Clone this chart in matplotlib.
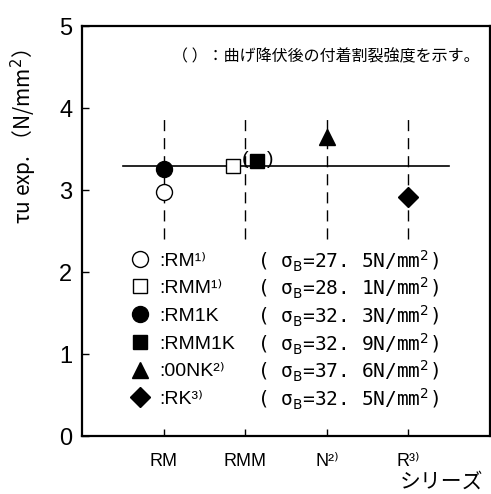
import matplotlib
matplotlib.use("Agg")
import matplotlib.pyplot as plt
from matplotlib import font_manager

have = sorted(set(f.name for f in font_manager.fontManager.ttflist))
narrow = 'Liberation Sans Narrow' if 'Liberation Sans Narrow' in have else 'Liberation Sans'
plt.rcParams['font.family'] = [narrow, 'Noto Sans CJK JP', 'DejaVu Sans']
cjk = ['Noto Sans CJK JP', 'DejaVu Sans']

# data
series_ticks = ['RM', 'RMM', 'N²⁾', 'R³⁾']
names = ['RM¹⁾', 'RMM¹⁾', 'RM1K', 'RMM1K', '00NK²⁾', 'RK³⁾']
series_x = [1, 1.85, 1, 2.15, 3, 4]
tau_exp = [2.97, 3.29, 3.26, 3.35, 3.65, 2.92]
sigma_b = ['27. 5', '28. 1', '32. 3', '32. 9', '37. 6', '32. 5']
markers = ['o', 's', 'o', 's', '^', 'D']
sizes = [11.5, 10, 11.5, 10, 11.5, 10]
filled = [False, False, True, True, True, True]
tau_mean = 3.29

fig = plt.figure(figsize=(4.91, 4.94), dpi=100)
ax = fig.add_axes([82 / 491, 58 / 494, 408 / 491, 410 / 494])

for xv in range(1, len(series_ticks) + 1):
    ax.plot([xv, xv], [2.4, 3.9], color='black', lw=1, dashes=(8, 5), zorder=1)
ax.plot([0.5, 4.5], [tau_mean, tau_mean], color='black', lw=1.2, zorder=1)

handles = []
for i in range(len(names)):
    h, = ax.plot(series_x[i], tau_exp[i], marker=markers[i], ms=sizes[i],
                 mfc='black' if filled[i] else 'white', mec='black', mew=1,
                 ls='none', zorder=3)
    handles.append(h)
ax.text(2.0, 3.37, '(', ha='center', va='center', fontsize=14)
ax.text(2.31, 3.37, ')', ha='center', va='center', fontsize=14)

ax.text(0.975, 0.925, '（ ）：曲げ降伏後の付着割裂強度を示す。', transform=ax.transAxes,
        ha='right', va='center', fontsize=11.5, family=cjk)

leg = ax.legend(handles, [':' + n for n in names], loc='upper left',
                bbox_to_anchor=(0.1, 0.468), frameon=False, fontsize=14,
                handlelength=1.0, handletextpad=0.45, labelspacing=0.52,
                borderaxespad=0)
# sigma_B column, drawn after the legend so its rows are placed
for t, s in zip(leg.get_texts(), sigma_b):
    ax.annotate('( σ$_{\\rm B}$=%sN/mm$^2$)' % s, xy=(0.43, 0.5),
                xycoords=('axes fraction', t), ha='left', va='center',
                fontsize=14, family=['DejaVu Sans Mono', 'DejaVu Sans'], zorder=10)

ax.set_xlim(0, 5)
ax.set_ylim(0, 5)
ax.set_xticks(range(1, len(series_ticks) + 1))
ax.set_xticklabels(series_ticks)
ax.set_yticks(range(0, 6))
ax.tick_params(direction='in', length=5, width=1, labelsize=17)
ax.tick_params(axis='x', labelsize=13, pad=12)
ax.tick_params(axis='y', pad=7)
for sp in ax.spines.values():
    sp.set_linewidth(1.6)
ax.set_ylabel('τu exp. （N/mm$^2$）', fontsize=15, family=cjk)
ax.yaxis.set_label_coords(-0.105, 0.73)
fig.text(0.985, 0.012, 'シリーズ', ha='right', va='baseline', fontsize=15, family=cjk)

fig.savefig('out.png', dpi=100)
